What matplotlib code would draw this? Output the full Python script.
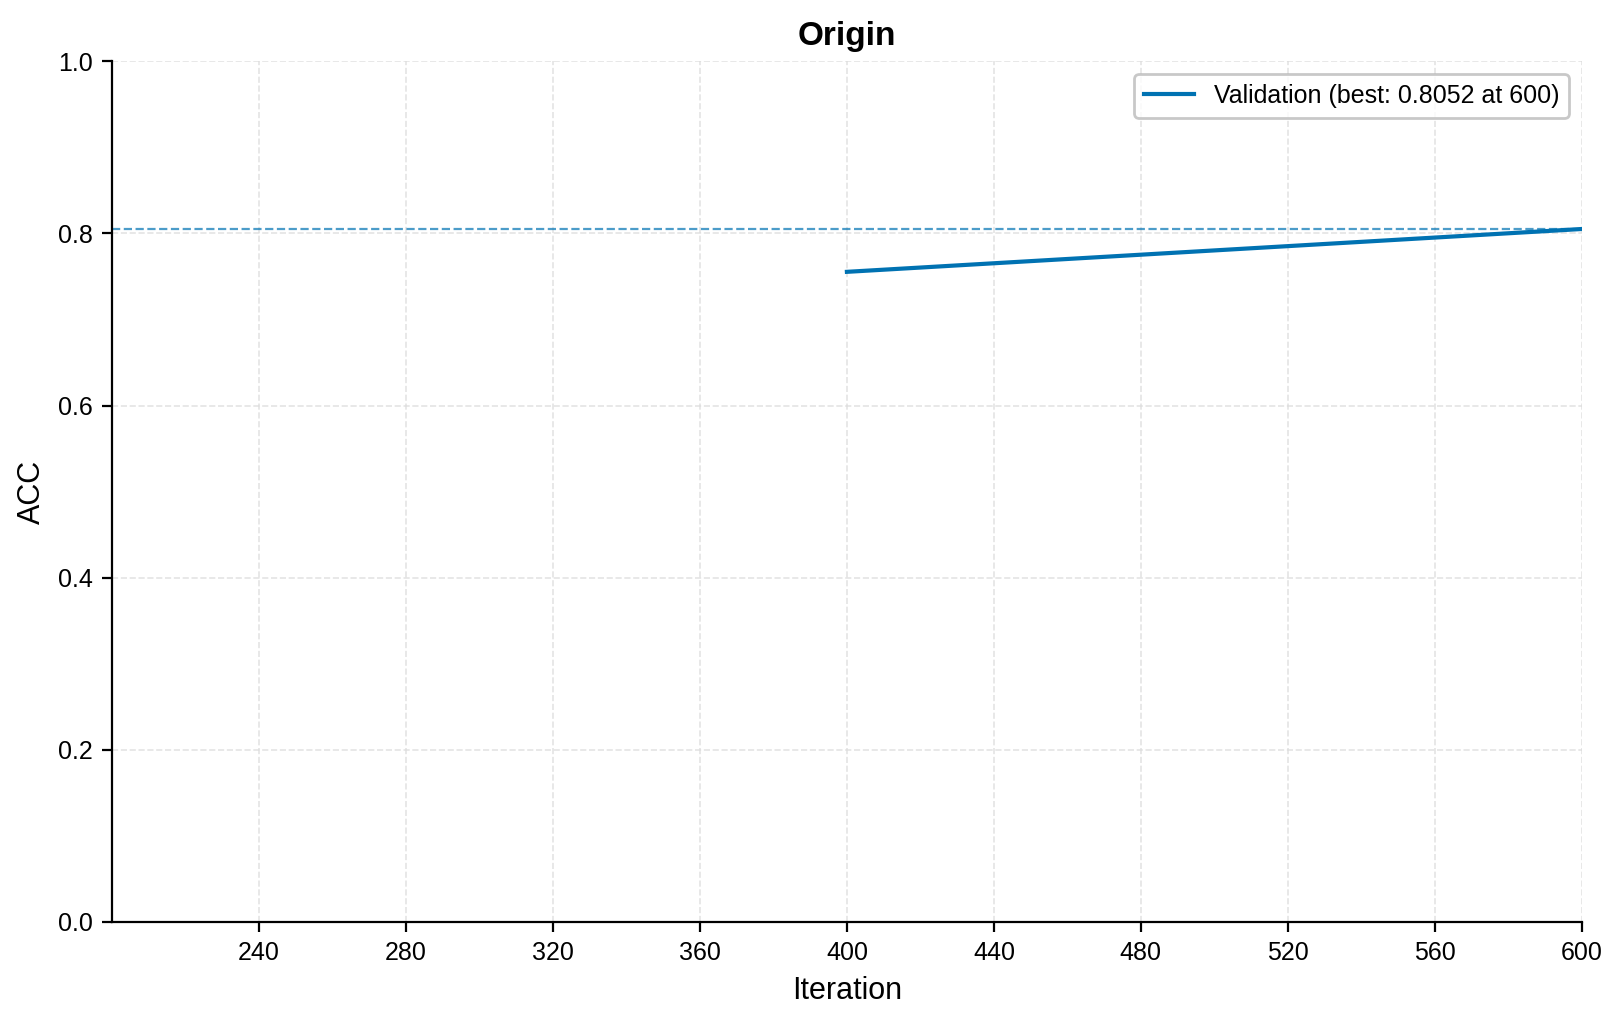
import matplotlib
matplotlib.use("Agg")
import matplotlib.pyplot as plt

iterations = [400, 600]
val_acc = [0.7554, 0.8052]
best_acc = 0.8052
best_iter = 600
x_ticks = [240, 280, 320, 360, 400, 440, 480, 520, 560, 600]
y_ticks = [0.0, 0.2, 0.4, 0.6, 0.8, 1.0]

plt.rcParams["font.family"] = ["Liberation Sans", "DejaVu Sans"]

fig, ax = plt.subplots(figsize=(8.12, 5.12), dpi=200)
fig.subplots_adjust(left=0.069, right=0.974, top=0.94, bottom=0.1)

color = "#0072B2"
ax.plot(iterations, val_acc, color=color, lw=1.5,
        label=f"Validation (best: {best_acc:.4f} at {best_iter})")
ax.axhline(best_acc, color=color, lw=0.8, ls="--", alpha=0.7)

ax.set_xlim(200, 600)
ax.set_ylim(0, 1.0)
ax.set_xticks(x_ticks)
ax.set_yticks(y_ticks)
ax.tick_params(labelsize=9)
ax.set_xlabel("Iteration", fontsize=11)
ax.set_ylabel("ACC", fontsize=11)
ax.set_title("Origin", fontsize=12, fontweight="bold")
ax.grid(True, ls="--", color="#dddddd", lw=0.6, alpha=0.8)
ax.spines["top"].set_visible(False)
ax.spines["right"].set_visible(False)
ax.legend(loc="upper right", fontsize=9, edgecolor="#bbbbbb")

fig.savefig("out.png", dpi=200)
